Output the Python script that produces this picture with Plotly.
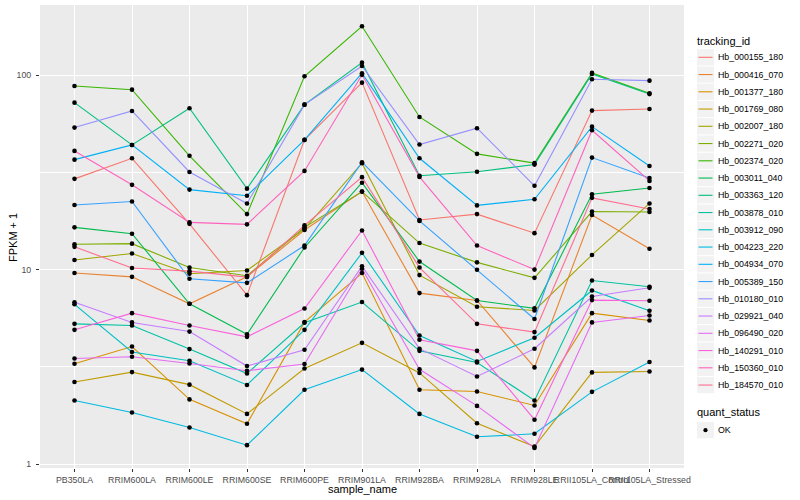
import plotly.graph_objects as go

samples = ["PB350LA", "RRIM600LA", "RRIM600LE", "RRIM600SE", "RRIM600PE", "RRIM901LA",
           "RRIM928BA", "RRIM928LA", "RRIM928LE", "RRII105LA_Control", "RRII105LA_Stressed"]

tracking_ids = ["Hb_000155_180", "Hb_000416_070", "Hb_001377_180", "Hb_001769_080", "Hb_002007_180",
                "Hb_002271_020", "Hb_002374_020", "Hb_003011_040", "Hb_003363_120", "Hb_003878_010",
                "Hb_003912_090", "Hb_004223_220", "Hb_004934_070", "Hb_005389_150", "Hb_010180_010",
                "Hb_029921_040", "Hb_096490_020", "Hb_140291_010", "Hb_150360_010", "Hb_184570_010"]

palette = ["#F8766D", "#EA8331", "#D89000", "#C09B00", "#A3A500", "#7CAE00", "#39B600", "#00BB4E",
           "#00BF7D", "#00C1A3", "#00BFC4", "#00BAE0", "#00B0F6", "#35A2FF", "#9590FF", "#C77CFF",
           "#E76BF3", "#FA62DB", "#FF62BC", "#FF6C91"]

# FPKM + 1 per sample (order of `samples`)
hb_000155_180 = [29.3, 37.4, 17.2, 7.39, 46.5, 91.6, 18.0, 19.3, 15.4, 65.8, 67.1]
hb_000416_070 = [9.60, 9.18, 6.67, 9.20, 16.0, 25.2, 7.57, 6.94, 3.14, 19.1, 12.8]
hb_001377_180 = [3.28, 4.02, 2.15, 1.61, 5.37, 9.60, 2.41, 2.36, 2.00, 5.97, 5.47]
hb_001769_080 = [2.64, 2.97, 2.56, 1.81, 3.10, 4.20, 2.94, 1.62, 1.23, 2.96, 2.99]
hb_002007_180 = [11.2, 12.1, 9.52, 9.90, 16.2, 35.3, 9.37, 6.44, 6.16, 11.9, 21.9]
hb_002271_020 = [13.5, 13.6, 10.25, 9.30, 16.5, 25.2, 13.7, 10.9, 9.07, 19.9, 19.8]
hb_002374_020 = [88.1, 84.3, 38.5, 19.3, 98.8, 178.6, 61.0, 39.4, 35.3, 102.8, 80.8]
hb_003011_040 = [16.5, 15.3, 6.67, 4.65, 13.0, 28.0, 11.0, 6.94, 6.32, 24.4, 26.3]
hb_003363_120 = [72.3, 43.8, 67.7, 26.1, 70.6, 116.1, 30.4, 31.9, 34.7, 101.5, 80.0]
hb_003878_010 = [5.26, 5.16, 3.90, 2.92, 5.33, 6.81, 3.82, 3.33, 2.12, 8.79, 8.16]
hb_003912_090 = [6.63, 3.77, 3.40, 2.55, 4.90, 12.2, 4.58, 3.37, 4.46, 7.81, 6.14]
hb_004223_220 = [2.12, 1.84, 1.54, 1.25, 2.41, 3.06, 1.81, 1.38, 1.43, 2.35, 3.35]
hb_004934_070 = [36.8, 43.8, 25.8, 24.0, 46.5, 102.4, 37.4, 21.4, 23.0, 54.4, 34.1]
hb_005389_150 = [21.5, 22.4, 8.97, 8.55, 13.3, 35.7, 17.8, 9.98, 5.57, 37.7, 29.6]
hb_010180_010 = [53.8, 65.5, 31.8, 21.9, 70.6, 111.6, 44.0, 53.4, 27.0, 95.4, 93.8]
hb_029921_040 = [6.79, 5.35, 4.80, 3.19, 3.87, 10.4, 3.92, 2.82, 3.92, 7.27, 8.06]
hb_096490_020 = [3.49, 3.56, 3.29, 3.02, 3.27, 10.1, 3.07, 1.99, 1.21, 5.35, 5.81]
hb_140291_010 = [4.90, 5.97, 5.16, 4.51, 6.31, 15.9, 4.36, 3.82, 1.69, 6.97, 6.91]
hb_150360_010 = [40.8, 27.3, 17.5, 17.1, 32.2, 100.5, 30.0, 13.3, 10.0, 52.1, 28.6]
hb_184570_010 = [13.1, 10.2, 9.82, 9.15, 16.9, 29.9, 10.25, 5.26, 4.77, 23.4, 20.5]

series = [hb_000155_180, hb_000416_070, hb_001377_180, hb_001769_080, hb_002007_180,
          hb_002271_020, hb_002374_020, hb_003011_040, hb_003363_120, hb_003878_010,
          hb_003912_090, hb_004223_220, hb_004934_070, hb_005389_150, hb_010180_010,
          hb_029921_040, hb_096490_020, hb_140291_010, hb_150360_010, hb_184570_010]

W, H = 800, 500
L, R, T, B = 40, 116, 5, 32
PW, PH = W - L - R, H - T - B


def px(x):
    return (x - L) / PW


def py(y):
    return 1 - (y - T) / PH


fig = go.Figure()
for tid, col, vals in zip(tracking_ids, palette, series):
    fig.add_trace(go.Scatter(x=samples, y=vals, mode="lines", name=tid,
                             line=dict(color=col, width=1.1), showlegend=False))
for tid, vals in zip(tracking_ids, series):
    fig.add_trace(go.Scatter(x=samples, y=vals, mode="markers", name=tid + " OK",
                             marker=dict(color="black", size=4.6), showlegend=False))

font_fam = "Liberation Sans, Arial, Helvetica, sans-serif"
fig.update_layout(
    width=W, height=H, margin=dict(l=L, r=R, t=T, b=B, autoexpand=False),
    paper_bgcolor="white", plot_bgcolor="#EBEBEB",
    font=dict(family=font_fam, color="black"), showlegend=False,
)
fig.update_xaxes(type="category", categoryorder="array", categoryarray=samples,
                 range=[-0.6, 10.6], showgrid=True, gridcolor="white", gridwidth=1.1,
                 ticks="outside", ticklen=3, tickcolor="#333333", tickwidth=1, tickangle=0,
                 automargin=False,
                 tickfont=dict(size=8.8, color="#4D4D4D"), zeroline=False, showline=False)
fig.update_yaxes(type="log", range=[-0.0206, 2.3614], tickvals=[1, 10, 100], ticktext=["1", "10", "100"],
                 showgrid=True, gridcolor="white", gridwidth=1.1, automargin=False,
                 minor=dict(tickvals=[3.1623, 31.623], showgrid=True, gridcolor="white", gridwidth=0.55, ticks=""),
                 ticks="outside", ticklen=3, tickcolor="#333333", tickwidth=1, ticklabelstandoff=3,
                 tickfont=dict(size=8.8, color="#4D4D4D"), zeroline=False, showline=False)

shapes = []
annotations = []
# axis titles
annotations.append(dict(text="sample_name", xref="paper", yref="paper", x=px(362), y=py(489),
                        xanchor="center", yanchor="middle", showarrow=False, font=dict(size=11)))
annotations.append(dict(text="FPKM + 1", xref="paper", yref="paper", x=px(13), y=py(237),
                        xanchor="center", yanchor="middle", textangle=-90, showarrow=False, font=dict(size=11)))
# legend: tracking_id
annotations.append(dict(text="tracking_id", xref="paper", yref="paper", x=px(696), y=py(40.7),
                        xanchor="left", yanchor="middle", showarrow=False, borderpad=0, font=dict(size=11)))
for i, (tid, col) in enumerate(zip(tracking_ids, palette)):
    yc = 57.3 + 17.25 * i
    shapes.append(dict(type="rect", xref="paper", yref="paper", x0=px(697), x1=px(714),
                       y0=py(yc - 8.1), y1=py(yc + 8.1), fillcolor="#F2F2F2", line=dict(width=0), layer="above"))
    shapes.append(dict(type="line", xref="paper", yref="paper", x0=px(698.5), x1=px(712.5),
                       y0=py(yc), y1=py(yc), line=dict(color=col, width=1.1), layer="above"))
    annotations.append(dict(text=tid, xref="paper", yref="paper", x=px(716.5), y=py(yc),
                            xanchor="left", yanchor="middle", showarrow=False, borderpad=0, font=dict(size=8.8)))
# legend: quant_status
annotations.append(dict(text="quant_status", xref="paper", yref="paper", x=px(696), y=py(412.3),
                        xanchor="left", yanchor="middle", showarrow=False, borderpad=0, font=dict(size=11)))
yc = 430.2
shapes.append(dict(type="rect", xref="paper", yref="paper", x0=px(697), x1=px(714),
                   y0=py(yc - 8.1), y1=py(yc + 8.1), fillcolor="#F2F2F2", line=dict(width=0), layer="above"))
shapes.append(dict(type="circle", xref="paper", yref="paper", x0=px(703.4), x1=px(707.6),
                   y0=py(yc - 2.1), y1=py(yc + 2.1), fillcolor="black", line=dict(width=0), layer="above"))
annotations.append(dict(text="OK", xref="paper", yref="paper", x=px(716.5), y=py(yc),
                        xanchor="left", yanchor="middle", showarrow=False, borderpad=0, font=dict(size=8.8)))

fig.update_layout(shapes=shapes, annotations=annotations)
fig.write_html("out.html", config={"displayModeBar": False},
               post_script="document.body.style.margin='0';document.body.style.overflow='hidden';")
